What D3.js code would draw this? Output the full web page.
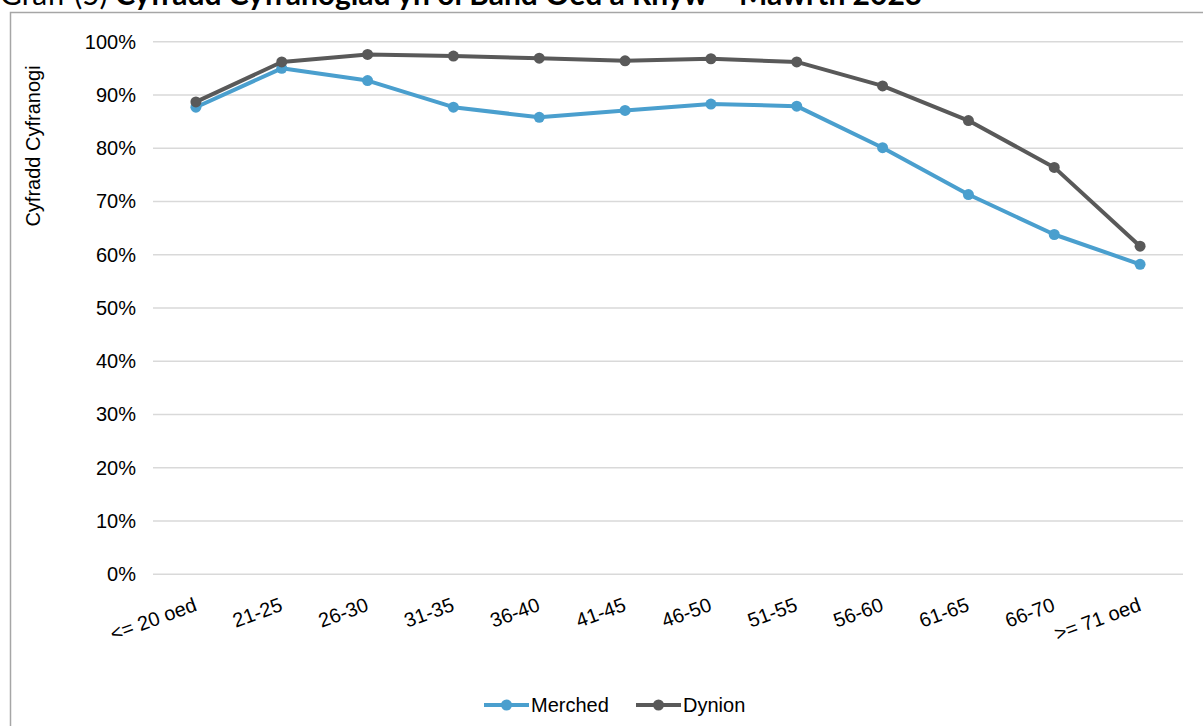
<!DOCTYPE html>
<html><head><meta charset="utf-8">
<script src="https://cdn.jsdelivr.net/npm/d3@7"></script>
<style>body{margin:0;background:#fff;overflow:hidden}svg{display:block}</style>
</head><body>
<script>
const categories = ["<= 20 oed","21-25","26-30","31-35","36-40","41-45","46-50","51-55","56-60","61-65","66-70",">= 71 oed"];
const merched = [87.7, 95.0, 92.7, 87.7, 85.8, 87.1, 88.3, 87.9, 80.1, 71.3, 63.8, 58.2];
const dynion  = [88.7, 96.2, 97.6, 97.3, 96.9, 96.4, 96.8, 96.2, 91.7, 85.2, 76.4, 61.6];
const yTicks = [0,10,20,30,40,50,60,70,80,90,100];
const seriesNames = ["Merched","Dynion"];
const colors = ["#4a9fce","#595959"];

const W = 1203, H = 726;
const svg = d3.select("body").append("svg").attr("width", W).attr("height", H);
const FONT = "Liberation Sans, Arial, sans-serif";

// title (clipped at top, as in the source)
const title = svg.append("text").attr("x", 0).attr("y", 5)
  .attr("font-family","Lato, Carlito, sans-serif").attr("font-size", 30).attr("fill","#000");
title.append("tspan").text("Graff (5) ");
title.append("tspan").attr("font-weight","bold").text("Cyfradd Cyfranogiad yn ôl Band Oed a Rhyw – Mawrth 2023");

// frame
svg.append("rect").attr("x", 10.5).attr("y", 12.5).attr("width", 1300).attr("height", 800)
  .attr("fill","none").attr("stroke","#a6a6a6").attr("stroke-width",1.5);

const m = {left:153, right:1183, top:41.7, bottom:574.3};
const x = d3.scaleBand().domain(categories).range([m.left, m.right]);
const y = d3.scaleLinear().domain([0,100]).range([m.bottom, m.top]);

// gridlines
svg.append("g").selectAll("line").data(yTicks).join("line")
  .attr("x1", m.left).attr("x2", m.right)
  .attr("y1", d=>y(d)).attr("y2", d=>y(d))
  .attr("stroke","#d9d9d9").attr("stroke-width",1.5);

// y axis
const yAxis = svg.append("g").attr("transform",`translate(${m.left},0)`)
  .call(d3.axisLeft(y).tickValues(yTicks).tickFormat(d=>d+"%").tickSize(0).tickPadding(17));
yAxis.select(".domain").remove();
yAxis.selectAll("text").attr("font-family",FONT).attr("font-size",20).attr("fill","#000");

// x axis labels
const xAxis = svg.append("g").attr("transform",`translate(0,${m.bottom})`)
  .call(d3.axisBottom(x).tickSize(0).tickPadding(0));
xAxis.select(".domain").remove();
xAxis.selectAll("text")
  .attr("font-family",FONT).attr("font-size",20).attr("fill","#000")
  .attr("text-anchor","end").attr("dy",0)
  .attr("transform","translate(2,36) rotate(-20)");

// y title
svg.append("text").attr("transform","translate(40,146) rotate(-90)")
  .attr("text-anchor","middle").attr("font-family",FONT)
  .attr("font-size",20).attr("fill","#000").text("Cyfradd Cyfranogi");

// series
const data = [merched, dynion];
const cx = (d,i)=>x(categories[i]) + x.bandwidth()/2;
const line = d3.line().x(cx).y(d=>y(d));
data.forEach((s,k)=>{
  const g = svg.append("g");
  g.append("path").datum(s).attr("d", line).attr("fill","none")
    .attr("stroke", colors[k]).attr("stroke-width",4).attr("stroke-linejoin","round");
  g.selectAll("circle").data(s).join("circle")
    .attr("cx",cx).attr("cy",d=>y(d))
    .attr("r",5.5).attr("fill",colors[k]);
});

// legend
const legX = [484, 636];
seriesNames.forEach((n,k)=>{
  const g = svg.append("g").attr("transform",`translate(${legX[k]},705)`);
  g.append("line").attr("x1",0).attr("x2",45).attr("stroke",colors[k]).attr("stroke-width",4);
  g.append("circle").attr("cx",22.5).attr("r",5.5).attr("fill",colors[k]);
  g.append("text").attr("x",47).attr("y",7).attr("font-family",FONT)
    .attr("font-size",20).attr("fill","#000").text(n);
});
</script>
</body></html>
